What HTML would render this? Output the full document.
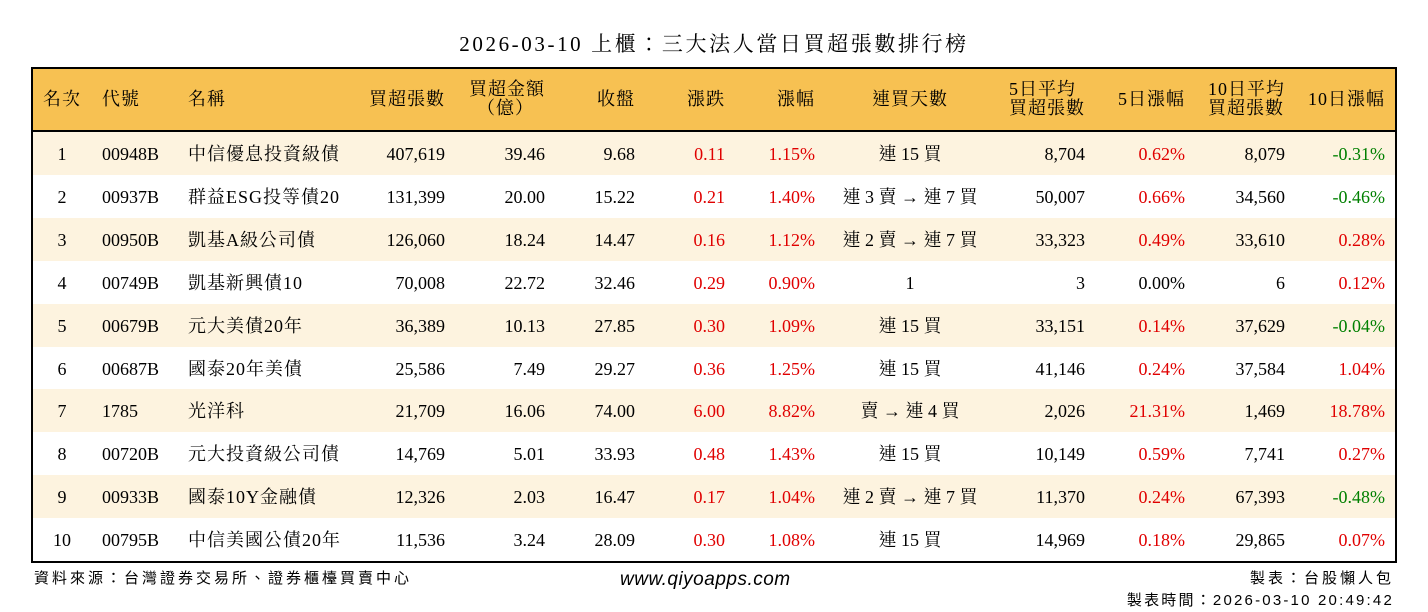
<!DOCTYPE html>
<html><head><meta charset="utf-8">
<style>
body{margin:0;width:1428px;height:612px;background:#fff;position:relative;overflow:hidden;font-family:"Liberation Serif","Noto Serif CJK TC","Noto Serif CJK SC",serif;color:#000}
#title{position:absolute;left:0;width:1428px;top:28px;text-align:center;font-size:21px;letter-spacing:2.6px}
#tbl{position:absolute;left:31px;top:67px;width:1362px;height:492px;border:2px solid #000;box-sizing:content-box}
#hdr{position:absolute;left:0;top:0;width:1362px;height:61px;background:#F7C152;border-bottom:2px solid #000}
.c{position:absolute;font-size:18px;white-space:nowrap;line-height:20px}
.row{position:absolute;left:0;width:1362px;height:43px}
.r{color:#E00000}.g{color:#008000}
.foot{position:absolute;font-family:"Liberation Sans","Noto Sans CJK TC",sans-serif;font-size:15px;letter-spacing:3px}
</style></head><body>
<div id="title">2026-03-10 上櫃：三大法人當日買超張數排行榜</div>
<div id="tbl">
<div id="hdr"></div>
</div>
<div class="foot" style="left:34px;top:567px">資料來源：台灣證券交易所、證券櫃檯買賣中心</div>
<div class="foot" style="left:620px;top:569px;font-size:19px;font-style:italic;letter-spacing:0.5px">www.qiyoapps.com</div>
<div class="foot" style="right:34px;top:567px">製表：台股懶人包</div>
<div class="foot" style="right:34px;top:589px;letter-spacing:2.2px">製表時間：2026-03-10 20:49:42</div>
<script>
const ranks=[1,2,3,4,5,6,7,8,9,10];
const codes=["00948B","00937B","00950B","00749B","00679B","00687B","1785","00720B","00933B","00795B"];
const names=["中信優息投資級債","群益ESG投等債20","凱基A級公司債","凱基新興債10","元大美債20年","國泰20年美債","光洋科","元大投資級公司債","國泰10Y金融債","中信美國公債20年"];
const buyLots=["407,619","131,399","126,060","70,008","36,389","25,586","21,709","14,769","12,326","11,536"];
const buyAmt=["39.46","20.00","18.24","22.72","10.13","7.49","16.06","5.01","2.03","3.24"];
const closes=["9.68","15.22","14.47","32.46","27.85","29.27","74.00","33.93","16.47","28.09"];
const changes=["0.11","0.21","0.16","0.29","0.30","0.36","6.00","0.48","0.17","0.30"];
const pcts=["1.15%","1.40%","1.12%","0.90%","1.09%","1.25%","8.82%","1.43%","1.04%","1.08%"];
const streaks=["連 15 買","連 3 賣 → 連 7 買","連 2 賣 → 連 7 買","1","連 15 買","連 15 買","賣 → 連 4 買","連 15 買","連 2 賣 → 連 7 買","連 15 買"];
const avg5=["8,704","50,007","33,323","3","33,151","41,146","2,026","10,149","11,370","14,969"];
const pct5=["0.62%","0.66%","0.49%","0.00%","0.14%","0.24%","21.31%","0.59%","0.24%","0.18%"];
const avg10=["8,079","34,560","33,610","6","37,629","37,584","1,469","7,741","67,393","29,865"];
const pct10=["-0.31%","-0.46%","0.28%","0.12%","-0.04%","1.04%","18.78%","0.27%","-0.48%","0.07%"];
const tbl=document.getElementById('tbl'),hdr=document.getElementById('hdr');
const OX=33;
function cell(parent,text,x,align,top,cls){
  const d=document.createElement('div');d.className='c '+(cls||'');d.innerHTML=text;
  d.style.top=top+'px';
  if(align==='r'){d.style.right=(1362-(x-OX))+'px';}
  else if(align==='c'){d.style.left=(x-OX-150)+'px';d.style.width='300px';d.style.textAlign='center';}
  else d.style.left=(x-OX)+'px';
  
  
  parent.appendChild(d);return d;
}
const H=[["名次",62,'c'],["代號",102,'l'],["名稱",188,'l'],["買超張數",445,'r'],["買超金額<br><span style='margin-left:8px'>（億）</span>",545,'r'],["收盤",635,'r'],["漲跌",725,'r'],["漲幅",815,'r'],["連買天數",910,'c'],["5日平均<br>買超張數",1085,'r'],["5日漲幅",1185,'r'],["10日平均<br>買超張數",1285,'r'],["10日漲幅",1385,'r']];
H.forEach(h=>{const two=h[0].includes('<br>');const d=cell(hdr,h[0],h[1],h[2],two?11:20);d.style.letterSpacing='1px';if(two)d.style.lineHeight='19px';
});
function sign(v){return v.startsWith('-')?'g':(parseFloat(v)===0?'':'r');}
ranks.forEach((rk,i)=>{
  const row=document.createElement('div');row.className='row';
  row.style.top=(63+i*42.9)+'px';row.style.background=i%2===0?'#FDF3DF':'#fff';
  
  
  tbl.appendChild(row);
  const t=12;
  cell(row,rk,62,'c',t);
  cell(row,codes[i],102,'l',t);
  cell(row,names[i],188,'l',t).style.letterSpacing='1px';
  cell(row,buyLots[i],445,'r',t);
  cell(row,buyAmt[i],545,'r',t);
  cell(row,closes[i],635,'r',t);
  cell(row,changes[i],725,'r',t,'r');
  cell(row,pcts[i],815,'r',t,'r');
  cell(row,streaks[i],910,'c',t);
  cell(row,avg5[i],1085,'r',t);
  cell(row,pct5[i],1185,'r',t,sign(pct5[i]));
  cell(row,avg10[i],1285,'r',t);
  cell(row,pct10[i],1385,'r',t,sign(pct10[i]));
});
</script>
</body></html>
